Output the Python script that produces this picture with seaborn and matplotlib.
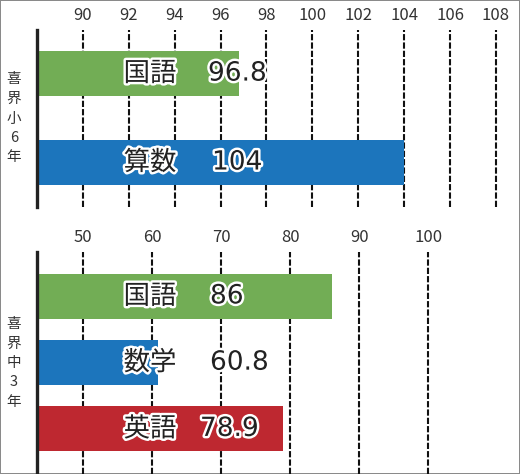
import matplotlib
matplotlib.use("Agg")
import matplotlib.pyplot as plt
import matplotlib.patheffects as pe
import pandas as pd
import seaborn as sns

# data
elem_group = "喜界小6年"
elem_subjects = ["国語", "算数"]
elem_scores = [96.8, 104]
elem_ticks = [90, 92, 94, 96, 98, 100, 102, 104, 106, 108]

jhs_group = "喜界中3年"
jhs_subjects = ["国語", "数学", "英語"]
jhs_scores = [86, 60.8, 78.9]
jhs_ticks = [50, 60, 70, 80, 90, 100]

subject_colors = {"国語": "#72ad55", "算数": "#1c75bc", "数学": "#1c75bc", "英語": "#be2830"}

sns.set_style("white")
plt.rcParams["font.family"] = ["Noto Sans CJK JP", "DejaVu Sans"]

fig = plt.figure(figsize=(5.2, 4.74), dpi=100, linewidth=1.2, edgecolor="#8a8a8a")
W, H = 520, 474
AX_W = W - 37


def panel(top, bottom, xlim, ylim, subjects, scores, ticks, group, bar_w, num_px):
    ax = fig.add_axes([37 / W, 1 - bottom / H, 1 - 37 / W, (bottom - top) / H])
    ax.set_facecolor("none")
    df = pd.DataFrame({"subject": subjects, "score": scores, "pos": range(len(subjects))})
    sns.barplot(data=df, x="score", y="pos", hue="subject", palette=subject_colors,
                orient="h", width=bar_w, dodge=False, legend=False, ax=ax,
                linewidth=0, saturation=1, native_scale=True)
    ax.set_xlim(*xlim)
    ax.set_ylim(*ylim)
    for t in ticks:
        ax.axvline(t, color="#111111", lw=1.5, dashes=(3, 1), zorder=0)
    ax.xaxis.tick_top()
    ax.set_xticks(ticks)
    ax.tick_params(axis="x", length=0, pad=4, labelsize=12, labelcolor="#333333")
    ax.set_yticks([])
    ax.set_xlabel("")
    ax.set_ylabel("")
    for side in ["top", "right", "bottom"]:
        ax.spines[side].set_visible(False)
    ax.spines["left"].set_linewidth(2.4)
    ax.spines["left"].set_color("#222222")
    stroke = [pe.withStroke(linewidth=3.5, foreground="white")]
    tr = ax.get_yaxis_transform()
    for i, (s, v) in enumerate(zip(subjects, scores)):
        ax.text((150 - 37) / AX_W, i, s, transform=tr, ha="center", va="center",
                fontsize=19, color="#222222", path_effects=stroke, zorder=5)
        ax.text((num_px[i] - 37) / AX_W, i, f"{v:g}", transform=tr, ha="left", va="center",
                fontsize=19, color="#222222", family="DejaVu Sans",
                path_effects=stroke, zorder=5)
    ax.text(-23 / AX_W, 0.5, "\n".join(group), transform=ax.transAxes, ha="center",
            va="center", fontsize=10.5, color="#333333", linespacing=1.5)
    return ax


panel(30, 207, (88, 109.05), (1.5, -0.49), elem_subjects, elem_scores, elem_ticks,
      elem_group, 0.506, [208, 212])
panel(252, 474, (43.3, 113.3), (2.68, -0.67), jhs_subjects, jhs_scores, jhs_ticks,
      jhs_group, 0.68, [210, 210, 200])

fig.savefig("out.png", dpi=100)
